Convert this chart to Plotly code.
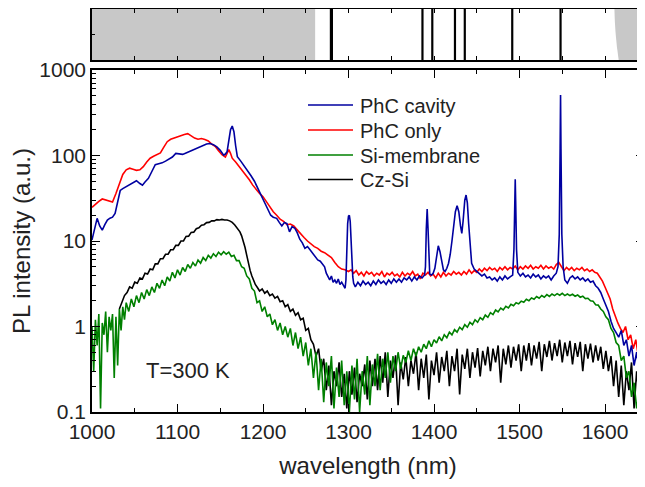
import plotly.graph_objects as go

# ---------------- data ----------------
phc_cavity = [
    (1000, 10.3), (1003, 14), (1006, 18.4), (1009, 15), (1012, 13.4), (1015, 15.5), (1018, 17.6),
    (1021, 18.5), (1024, 19), (1027, 21), (1030, 30), (1033, 39), (1036, 41), (1040, 43), (1044, 46),
    (1048, 48), (1052, 50.7), (1056, 47), (1059, 45), (1062, 49), (1066, 54), (1070, 65), (1074, 78),
    (1078, 80), (1082, 82), (1086, 86), (1090, 92), (1094, 96), (1098, 106), (1102, 104), (1106, 103),
    (1110, 107), (1114, 111), (1118, 116), (1122, 121), (1126, 126), (1130, 130), (1134, 136),
    (1138, 138), (1142, 134), (1146, 126), (1150, 115), (1154, 101), (1156, 104), (1158, 111),
    (1160, 150), (1162, 200), (1164, 221), (1166, 190), (1168, 130), (1170, 97), (1174, 86),
    (1178, 76), (1182, 66), (1186, 58), (1190, 50), (1194, 42), (1198, 34), (1202, 28), (1206, 23),
    (1209, 20), (1212, 19), (1216, 18.4), (1219, 16.5), (1222, 15), (1225, 16.5), (1228, 16),
    (1231, 12.8), (1234, 14.7), (1237, 14.2), (1240, 12.5), (1243, 10.5), (1246, 9.5), (1249, 8.2),
    (1252, 8.6), (1255, 7.9), (1258, 7.2), (1261, 6.4), (1264, 6.0), (1267, 5.8), (1270, 5.25),
    (1272, 5.0), (1274, 4.2), (1276, 3.8), (1278, 3.5), (1280, 3.9), (1282, 3.3), (1284, 3.5),
    (1286, 3.2), (1288, 3.6), (1290, 3.1), (1292, 3.3), (1294, 3.0), (1296, 2.8), (1297, 3.5),
    (1298, 8), (1299, 16), (1300, 19.5), (1301, 20), (1302, 17), (1303, 10), (1304, 5.5), (1305, 3.8),
    (1306, 3.2), (1308, 2.9), (1311, 3.3), (1314, 3.0), (1317, 3.4), (1320, 3.1), (1323, 3.3),
    (1326, 3.0), (1329, 3.4), (1332, 3.1), (1335, 3.5), (1338, 3.2), (1341, 3.4), (1344, 3.1),
    (1347, 3.5), (1350, 3.2), (1353, 3.6), (1356, 3.3), (1359, 3.6), (1362, 3.3), (1365, 3.7),
    (1368, 3.5), (1371, 3.8), (1374, 3.4), (1377, 3.8), (1380, 3.5), (1383, 3.9), (1386, 3.7),
    (1389, 4.0), (1390, 5), (1391, 14), (1392, 23.7), (1393, 14), (1394, 5.5), (1395, 4.1),
    (1397, 4.0), (1399, 4.2), (1401, 4.8), (1403, 7), (1405, 8.8), (1407, 7.5), (1409, 5.5),
    (1411, 4.6), (1413, 4.4), (1415, 4.8), (1417, 5.5), (1419, 7), (1421, 10), (1423, 16), (1425, 22),
    (1427, 25.9), (1429, 22), (1431, 15), (1432.5, 12.3), (1434, 17), (1436, 30), (1437.5, 34.5),
    (1439, 28), (1440.5, 16), (1442, 9), (1444, 5.5), (1447, 4.7), (1450, 4.4), (1453, 4.2),
    (1456, 3.9), (1459, 4.1), (1462, 3.7), (1465, 3.8), (1468, 3.5), (1471, 3.7), (1474, 3.4),
    (1477, 3.8), (1480, 3.5), (1483, 3.9), (1486, 3.6), (1489, 3.8), (1492, 4.0), (1493.5, 8),
    (1494.5, 30), (1495, 52.7), (1495.5, 30), (1496.5, 8), (1498, 4.3), (1501, 3.9), (1504, 4.2),
    (1507, 3.8), (1510, 4.0), (1513, 3.7), (1516, 4.1), (1519, 3.8), (1522, 4.0), (1525, 3.6),
    (1528, 3.9), (1531, 3.7), (1534, 3.9), (1537, 3.5), (1540, 3.9), (1543, 4.2), (1545, 5),
    (1546.5, 12), (1547.5, 120), (1548, 510), (1548.5, 120), (1549.5, 12), (1551, 5), (1553, 3.5),
    (1556, 3.2), (1559, 3.7), (1562, 3.9), (1565, 3.6), (1568, 3.8), (1571, 3.5), (1574, 3.7),
    (1577, 3.4), (1580, 3.6), (1583, 3.3), (1586, 3.4), (1589, 3.0), (1592, 2.8), (1595, 2.5),
    (1598, 2.1), (1601, 1.8), (1604, 1.5), (1607, 1.15), (1610, 0.95), (1613, 0.85), (1616, 0.75),
    (1619, 0.9), (1622, 0.6), (1625, 0.7), (1628, 0.45), (1631, 0.6), (1634, 0.35), (1637, 0.5),
    (1640, 0.3), (1643, 0.55), (1645, 0.5),
]

phc_only = [
    (1000, 24.8), (1004, 27), (1008, 29), (1012, 31), (1016, 30), (1020, 29), (1024, 28.5), (1028, 36),
    (1032, 48), (1036, 60), (1040, 68), (1044, 71), (1048, 69), (1052, 67), (1056, 68), (1060, 74),
    (1064, 84), (1068, 93), (1072, 98), (1076, 102), (1080, 107), (1084, 125), (1088, 145), (1092, 155),
    (1096, 160), (1100, 168), (1104, 172), (1108, 176), (1112, 180), (1116, 168), (1120, 160),
    (1124, 155), (1128, 158), (1132, 154), (1136, 148), (1140, 136), (1144, 128), (1148, 114),
    (1152, 102), (1156, 96), (1158, 104), (1160, 117), (1162, 106), (1164, 93), (1168, 84), (1172, 75),
    (1176, 66), (1180, 58), (1184, 52), (1188, 45), (1192, 40), (1196, 36), (1200, 33), (1204, 29),
    (1208, 25), (1212, 22), (1216, 20), (1220, 18), (1224, 17), (1228, 15.5), (1232, 15.8), (1236, 15),
    (1240, 13.5), (1244, 12), (1248, 11), (1252, 10), (1256, 9.2), (1260, 8.6), (1264, 8.2),
    (1268, 7.6), (1272, 7.3), (1276, 6.8), (1280, 6.4), (1284, 5.6), (1288, 5.0), (1292, 4.7),
    (1296, 4.6), (1300, 4.4), (1303, 4.6), (1306, 4.2), (1309, 4.5), (1312, 4.0), (1315, 4.3),
    (1318, 3.9), (1321, 4.4), (1324, 4.1), (1327, 4.3), (1330, 3.9), (1333, 4.2), (1336, 4.0),
    (1339, 4.4), (1342, 3.8), (1345, 4.2), (1348, 4.0), (1351, 4.3), (1354, 3.9), (1357, 4.1),
    (1360, 3.8), (1363, 4.3), (1366, 3.9), (1369, 4.2), (1372, 4.0), (1375, 4.4), (1378, 3.9),
    (1381, 4.1), (1384, 3.6), (1387, 4.2), (1390, 4.0), (1393, 4.3), (1396, 3.9), (1399, 4.1),
    (1402, 3.7), (1405, 4.2), (1408, 3.8), (1411, 4.3), (1414, 3.9), (1417, 4.2), (1420, 4.0),
    (1423, 4.4), (1426, 4.1), (1429, 4.3), (1432, 4.0), (1435, 4.4), (1438, 4.1), (1441, 4.6),
    (1444, 4.2), (1447, 4.5), (1450, 4.3), (1453, 4.7), (1456, 4.4), (1459, 4.8), (1462, 4.5),
    (1465, 4.9), (1468, 4.6), (1471, 4.8), (1474, 4.4), (1477, 4.9), (1480, 4.6), (1483, 5.0),
    (1486, 4.6), (1489, 4.9), (1492, 4.7), (1495, 5.1), (1498, 4.6), (1501, 5.0), (1504, 4.7),
    (1507, 5.1), (1510, 4.8), (1513, 5.2), (1516, 4.7), (1519, 5.0), (1522, 4.8), (1525, 5.2),
    (1528, 4.7), (1531, 5.1), (1534, 4.8), (1537, 5.0), (1540, 4.7), (1543, 5.3), (1546, 5.6),
    (1549, 5.0), (1552, 4.5), (1555, 4.9), (1558, 4.6), (1561, 4.9), (1564, 4.5), (1567, 4.8),
    (1570, 4.6), (1573, 4.9), (1576, 4.5), (1579, 4.7), (1582, 4.4), (1585, 4.6), (1588, 4.3),
    (1591, 4.2), (1594, 3.8), (1597, 3.4), (1600, 2.9), (1603, 2.5), (1606, 2.1), (1609, 1.6),
    (1612, 1.3), (1615, 1.1), (1618, 0.95), (1621, 0.85), (1624, 1.0), (1627, 0.7), (1630, 0.8),
    (1633, 0.55), (1636, 0.7), (1639, 0.45), (1642, 0.6), (1645, 0.5),
]

si_membrane = [
    (1000, 1.0), (1002, 0.3), (1004, 1.2), (1006, 0.6), (1008, 1.4), (1010, 0.11), (1012, 1.1),
    (1014, 0.8), (1016, 1.5), (1018, 0.5), (1020, 1.3), (1022, 0.9), (1024, 1.4), (1026, 0.25),
    (1028, 1.3), (1030, 0.35), (1032, 1.6), (1034, 0.9), (1036, 1.7), (1038, 1.2),
    (1040, 1.9), (1043, 1.5), (1046, 2.1), (1049, 1.7), (1052, 2.3), (1055, 1.9), (1058, 2.5),
    (1061, 2.1), (1064, 2.7), (1067, 2.3), (1070, 2.9), (1073, 2.5), (1076, 3.2), (1079, 2.8),
    (1082, 3.5), (1085, 3.0), (1088, 3.8), (1091, 3.4), (1094, 4.3), (1097, 3.7), (1100, 4.6),
    (1103, 4.0), (1106, 4.9), (1109, 4.4), (1112, 5.3), (1115, 4.8), (1118, 5.6), (1121, 5.1),
    (1124, 6.0), (1127, 5.5), (1130, 6.4), (1133, 5.9), (1136, 6.8), (1139, 6.3), (1142, 7.1),
    (1145, 6.6), (1148, 7.4), (1151, 6.9), (1154, 7.5), (1157, 7.0), (1160, 7.4), (1163, 6.6),
    (1166, 6.8), (1169, 5.9), (1172, 5.9), (1175, 5.0), (1178, 4.8), (1181, 3.9), (1184, 3.6),
    (1187, 2.8), (1190, 2.6), (1193, 1.9), (1196, 2.0), (1199, 1.5), (1202, 1.7), (1205, 1.3),
    (1208, 1.4), (1211, 1.05), (1214, 1.2), (1217, 0.9), (1220, 1.1), (1223, 0.8), (1226, 1.0),
    (1229, 0.75), (1232, 0.95), (1235, 0.6), (1238, 0.85), (1241, 0.55), (1244, 0.75), (1247, 0.45),
    (1250, 0.65), (1253, 0.35), (1256, 0.55), (1259, 0.25), (1262, 0.5), (1265, 0.18), (1268, 0.42),
    (1271, 0.13), (1274, 0.38), (1277, 0.2), (1280, 0.45), (1283, 0.11), (1286, 0.33), (1289, 0.15),
    (1292, 0.4), (1295, 0.12), (1298, 0.3), (1301, 0.1), (1304, 0.35), (1307, 0.14), (1310, 0.42),
    (1313, 0.1), (1316, 0.3), (1319, 0.16), (1322, 0.45), (1325, 0.12), (1328, 0.36), (1331, 0.2),
    (1334, 0.48), (1337, 0.18), (1340, 0.42), (1343, 0.25), (1346, 0.5), (1349, 0.22), (1352, 0.45),
    (1355, 0.3), (1358, 0.5), (1361, 0.32), (1364, 0.46), (1367, 0.38), (1370, 0.52), (1373, 0.4),
    (1376, 0.55), (1379, 0.45), (1382, 0.58), (1385, 0.5), (1388, 0.62), (1391, 0.55), (1394, 0.68),
    (1397, 0.58), (1400, 0.7), (1403, 0.64), (1406, 0.76), (1409, 0.68), (1412, 0.8), (1415, 0.74),
    (1418, 0.86), (1421, 0.8), (1424, 0.92), (1427, 0.86), (1430, 0.98), (1433, 0.92), (1436, 1.05),
    (1439, 0.98), (1442, 1.12), (1445, 1.05), (1448, 1.2), (1451, 1.12), (1454, 1.27), (1457, 1.2),
    (1460, 1.36), (1463, 1.28), (1466, 1.45), (1469, 1.38), (1472, 1.56), (1475, 1.48), (1478, 1.64),
    (1481, 1.56), (1484, 1.72), (1487, 1.65), (1490, 1.82), (1493, 1.75), (1496, 1.9), (1499, 1.84),
    (1502, 1.98), (1505, 1.92), (1508, 2.08), (1511, 2.0), (1514, 2.16), (1517, 2.08), (1520, 2.24),
    (1523, 2.14), (1526, 2.3), (1529, 2.2), (1532, 2.36), (1535, 2.25), (1538, 2.4), (1541, 2.3),
    (1544, 2.42), (1547, 2.32), (1550, 2.44), (1553, 2.3), (1556, 2.4), (1559, 2.3), (1562, 2.38),
    (1565, 2.26), (1568, 2.34), (1571, 2.2), (1574, 2.26), (1577, 2.12), (1580, 2.14), (1583, 2.0),
    (1586, 1.98), (1589, 1.8), (1592, 1.78), (1595, 1.6), (1598, 1.5), (1601, 1.3), (1604, 1.2),
    (1607, 0.95), (1610, 0.85), (1613, 0.65), (1616, 0.6), (1619, 0.4), (1622, 0.45), (1625, 0.25),
    (1628, 0.3), (1631, 0.15), (1634, 0.22), (1637, 0.11), (1640, 0.18), (1643, 0.1), (1645, 0.15),
]

cz_si = [
    (1032, 1.6), (1035, 1.9), (1038, 2.3), (1041, 2.5), (1044, 2.9), (1047, 2.8), (1050, 3.3),
    (1053, 3.2), (1056, 3.7), (1059, 3.6), (1062, 4.2), (1065, 4.1), (1068, 4.7), (1071, 4.6),
    (1074, 5.4), (1077, 5.4), (1080, 6.2), (1083, 6.2), (1086, 7.0), (1089, 7.0), (1092, 7.9),
    (1095, 7.9), (1098, 8.9), (1101, 8.9), (1104, 10.0), (1107, 10.0), (1110, 11.3), (1113, 11.4),
    (1116, 12.6), (1119, 12.7), (1122, 13.9), (1125, 14.3), (1128, 15.3), (1131, 15.5), (1134, 16.4),
    (1137, 16.5), (1140, 17.2), (1143, 17.2), (1146, 17.8), (1149, 17.6), (1152, 17.9), (1155, 17.6),
    (1158, 17.6), (1161, 17.2), (1164, 16.5), (1167, 15.4), (1170, 14.2), (1173, 12.8), (1175, 11.5),
    (1177, 10.0), (1179, 8.4), (1181, 6.8), (1183, 5.4), (1185, 4.5), (1187, 3.9), (1189, 3.4),
    (1191, 3.1), (1194, 2.8), (1196, 2.6), (1199, 2.75), (1202, 2.45), (1205, 2.6), (1208, 2.3),
    (1211, 2.4), (1214, 2.15), (1217, 2.25), (1220, 1.95), (1223, 2.0), (1226, 1.7), (1229, 1.8),
    (1232, 1.5), (1235, 1.6), (1238, 1.35), (1241, 1.45), (1244, 1.2), (1247, 1.25), (1250, 0.9),
    (1253, 0.95), (1256, 0.7), (1259, 0.62), (1262, 0.45), (1265, 0.55), (1268, 0.3), (1271, 0.42),
    (1274, 0.18), (1277, 0.35), (1280, 0.12), (1283, 0.3), (1286, 0.2), (1289, 0.38), (1292, 0.15),
    (1295, 0.28), (1298, 0.11), (1301, 0.3), (1304, 0.16), (1307, 0.33), (1310, 0.13), (1313, 0.28),
    (1316, 0.2), (1319, 0.36), (1322, 0.14), (1325, 0.4), (1328, 0.2), (1331, 0.42), (1334, 0.18),
    (1337, 0.45), (1340, 0.22), (1343, 0.5), (1346, 0.15), (1349, 0.4), (1352, 0.25), (1355, 0.46),
    (1358, 0.12), (1361, 0.38), (1364, 0.24), (1367, 0.44), (1370, 0.2), (1373, 0.4), (1376, 0.28),
    (1379, 0.5), (1382, 0.18), (1385, 0.42), (1388, 0.25), (1391, 0.47), (1394, 0.14), (1397, 0.4),
    (1400, 0.27), (1403, 0.5), (1406, 0.22), (1409, 0.44), (1412, 0.3), (1415, 0.52), (1418, 0.2),
    (1421, 0.45), (1424, 0.3), (1427, 0.55), (1430, 0.16), (1433, 0.47), (1436, 0.32), (1439, 0.55),
    (1442, 0.25), (1445, 0.5), (1448, 0.33), (1451, 0.56), (1454, 0.26), (1457, 0.52), (1460, 0.35),
    (1463, 0.58), (1466, 0.3), (1469, 0.55), (1472, 0.38), (1475, 0.6), (1478, 0.22), (1481, 0.55),
    (1484, 0.36), (1487, 0.6), (1490, 0.33), (1493, 0.58), (1496, 0.4), (1499, 0.62), (1502, 0.3),
    (1505, 0.6), (1508, 0.4), (1511, 0.64), (1514, 0.35), (1517, 0.6), (1520, 0.42), (1523, 0.66),
    (1526, 0.3), (1529, 0.62), (1532, 0.44), (1535, 0.68), (1538, 0.4), (1541, 0.64), (1544, 0.45),
    (1547, 0.7), (1550, 0.38), (1553, 0.65), (1556, 0.45), (1559, 0.68), (1562, 0.36), (1565, 0.64),
    (1568, 0.44), (1571, 0.66), (1574, 0.3), (1577, 0.62), (1580, 0.42), (1583, 0.63), (1586, 0.38),
    (1589, 0.6), (1592, 0.4), (1595, 0.58), (1598, 0.32), (1601, 0.52), (1604, 0.3), (1607, 0.45),
    (1610, 0.2), (1613, 0.4), (1616, 0.15), (1619, 0.35), (1622, 0.12), (1625, 0.3), (1628, 0.18),
    (1631, 0.38), (1634, 0.11), (1637, 0.3), (1640, 0.15), (1643, 0.35), (1645, 0.2),
]

series_names = ["PhC cavity", "PhC only", "Si-membrane", "Cz-Si"]
series_colors = ["#0000a0", "#ff0000", "#008000", "#000000"]

# top strip: simulated mode positions (nm) and shaded (gray) bands
mode_nm = [1280, 1386.5, 1398, 1424.5, 1436, 1491.5, 1548]
mode_width = [3.2, 2.2, 2.2, 2.2, 2.2, 2.2, 2.2]
gray_left_nm = [1000, 1261]
gray_right_edge_nm = [1611, 1611.5, 1612.5, 1614, 1616]
gray_right_edge_y = [1.0, 0.75, 0.5, 0.25, 0.0]
strip_end_nm = 1646

x_ticks = [1000, 1100, 1200, 1300, 1400, 1500, 1600]
y_ticks = [0.1, 1, 10, 100, 1000]
y_tick_text = ["0.1", "1", "10", "100", "1000"]
y_minor = [m * d for d in (0.1, 1, 10, 100) for m in range(2, 10)]

FONT = "Liberation Sans, Arial, sans-serif"
TEXT = "#222222"

fig = go.Figure()

# main spectra (drawn black, green, red, blue so blue is on top)
for data, name, color in [(cz_si, series_names[3], series_colors[3]),
                          (si_membrane, series_names[2], series_colors[2]),
                          (phc_only, series_names[1], series_colors[1]),
                          (phc_cavity, series_names[0], series_colors[0])]:
    xs = [p[0] for p in data]
    ys = [p[1] for p in data]
    fig.add_trace(go.Scatter(x=xs, y=ys, mode="lines", name=name,
                             line=dict(color=color, width=1.6),
                             showlegend=False, xaxis="x", yaxis="y"))

# top strip: gray bands
fig.add_trace(go.Scatter(
    x=[gray_left_nm[0], gray_left_nm[1], gray_left_nm[1], gray_left_nm[0], gray_left_nm[0]],
    y=[0, 0, 1, 1, 0], fill="toself", fillcolor="#c8c8c8", mode="none",
    showlegend=False, hoverinfo="skip", xaxis="x2", yaxis="y2"))
fig.add_trace(go.Scatter(
    x=gray_right_edge_nm + [strip_end_nm, strip_end_nm, gray_right_edge_nm[0]],
    y=gray_right_edge_y + [0, 1, 1], fill="toself", fillcolor="#c8c8c8", mode="none",
    showlegend=False, hoverinfo="skip", xaxis="x2", yaxis="y2"))
for m, w in zip(mode_nm, mode_width):
    fig.add_trace(go.Scatter(x=[m, m], y=[0, 1], mode="lines",
                             line=dict(color="black", width=w),
                             showlegend=False, hoverinfo="skip", xaxis="x2", yaxis="y2"))

# the page body has an 8px margin, so the figure is drawn 8px in from the corner
W, H = 637, 471
ML, MR, MT, MB = 84, 1, 1, 67
plot_w = W - ML - MR
plot_h = H - MT - MB


def px_x(page_x):
    return (page_x - 8 - ML) / plot_w


def px_y(page_y):
    return (plot_h - (page_y - 8 - MT)) / plot_h


# legend (key lines + labels) laid out like the reference
shapes = []
annotations = []
legend_rows = [105, 130, 155, 179.5]
for name, color, row in zip(series_names, series_colors, legend_rows):
    shapes.append(dict(type="line", xref="paper", yref="paper",
                       x0=px_x(308), x1=px_x(353), y0=px_y(row), y1=px_y(row),
                       line=dict(color=color, width=1.6)))
    annotations.append(dict(text=name, xref="paper", yref="paper",
                            x=px_x(358), y=px_y(row + 1), xanchor="left", yanchor="middle",
                            showarrow=False, font=dict(size=20, color=TEXT)))

annotations.append(dict(text="T=300 K", x=px_x(188), y=px_y(370), xref="paper", yref="paper",
                        xanchor="center", yanchor="middle",
                        showarrow=False, font=dict(size=22, color=TEXT)))

axis_common = dict(showgrid=False, zeroline=False, linecolor="black", linewidth=1.5,
                   ticks="inside", tickcolor="black", tickwidth=1.3, mirror="ticks",
                   automargin=False)

fig.update_layout(
    width=W, height=H,
    margin=dict(l=ML, r=MR, t=MT, b=MB),
    paper_bgcolor="white", plot_bgcolor="white",
    font=dict(family=FONT, size=21, color=TEXT),
    showlegend=False,
    xaxis=dict(domain=[0, 1], range=[1000, 1645.6], anchor="y",
               tickvals=x_ticks, ticklen=8,
               minor=dict(dtick=50, tick0=1000, ticks="inside", ticklen=4,
                          tickcolor="black", tickwidth=1.3, showgrid=False),
               title=dict(text="wavelength (nm)", font=dict(size=24), standoff=16),
               **axis_common),
    yaxis=dict(domain=[0, px_y(70)], type="log", range=[-1, 3], anchor="x",
               tickvals=y_ticks, ticktext=y_tick_text, ticklen=8,
               minor=dict(tickvals=y_minor, ticks="inside", ticklen=4,
                          tickcolor="black", tickwidth=1.3, showgrid=False),
               title=dict(text="PL intensity (a.u.)", font=dict(size=24), standoff=3),
               **axis_common),
    xaxis2=dict(domain=[0, 1], range=[1000, 1645.6], anchor="y2",
                showticklabels=False, dtick=50, tick0=1000, ticklen=4, **axis_common),
    yaxis2=dict(domain=[px_y(60), 1], range=[0, 1], anchor="x2",
                showticklabels=False, tickvals=[0.5], ticklen=3, **axis_common),
    shapes=shapes,
    annotations=annotations,
)

fig.write_html("out.html")
